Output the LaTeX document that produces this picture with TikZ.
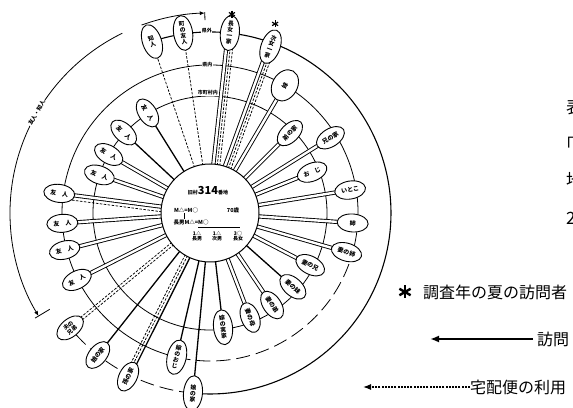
\documentclass[tikz,border=0pt]{standalone}
\usepackage{fontspec}
\setmainfont{Noto Sans CJK JP}
\usetikzlibrary{shapes.geometric,calc,arrows.meta}
\pgfdeclarelayer{bg}
\pgfsetlayers{bg,main}
\tikzset{
 leaf/.style={ellipse, draw, line width=0.9pt, fill=white, inner sep=0pt, minimum width=31pt, minimum height=18pt, font=\fontsize{6}{6.5}\selectfont\bfseries},
 vleaf/.style={leaf, minimum width=19pt, minimum height=35pt, align=center, font=\fontsize{5.8}{6.1}\selectfont\bfseries},
 single/.style={line width=1.3pt},
 dbl/.style={double, double distance=2.4pt, line width=0.9pt},
 dsh/.style={line width=0.75pt, dash pattern=on 2.5pt off 1.5pt},
 ring/.style={line width=0.8pt},
 ringlbl/.style={fill=white, inner sep=0.6pt, font=\fontsize{5}{5}\selectfont\bfseries},
 legend/.style={font=\fontsize{16}{16}\selectfont, inner sep=0pt, anchor=west},
 edge/.style={font=\fontsize{17}{17}\selectfont, inner sep=0pt, anchor=west},
}
\newcommand\lf[5]{\node[#5] (#1) at ($(C)+(#2:#3)$) {#4};}
\newcommand\spk[3]{\draw[#1] ($(ctr.center)!#3!90:(#2.center)$) -- ($(#2.center)!#3!-90:(ctr.center)$);}
\newcommand\astar[3]{\foreach \k in {0,60,120}{\draw[line width=#3] ($(#1)+(\k+90:#2)$) -- ($(#1)+(\k+270:#2)$);}}
\begin{document}
\begin{tikzpicture}[x=1pt,y=1pt]
\useasboundingbox (0,0) rectangle (573,407);
\coordinate (C) at (210,194);
\node[circle, draw, line width=1pt, fill=white, minimum size=98pt, inner sep=0pt] (ctr) at (C) {};
% ellipses
\lf{e1}{108.7}{181}{知\\人}{vleaf, rotate=18.7}
\lf{e2}{98.5}{182}{町\\の\\友\\人}{vleaf, rotate=8.5}
\lf{e3}{83.7}{181}{長\\女\\一\\家}{vleaf, rotate=-6.3}
\lf{e4}{70}{177}{次\\女\\一\\家}{vleaf, rotate=-20}
\lf{e5}{59.6}{148}{妹}{leaf, minimum width=33pt, minimum height=25pt, rotate=59.6}
\lf{e6}{45}{113}{弟の家}{leaf, rotate=45}
\lf{e7}{32}{142}{兄の家}{leaf, rotate=32}
\lf{e8}{21.8}{110}{お　じ}{leaf, rotate=21.8}
\lf{e9}{9.3}{142}{いとこ}{leaf, rotate=9.3}
\lf{e10}{-4}{143}{姉}{leaf, rotate=-4}
\lf{e11}{-16}{142}{妻の姉}{leaf, rotate=-16}
\lf{e12}{-27.5}{113}{妻の兄}{leaf, rotate=-27.5}
\lf{e13}{-41.7}{111}{妻の妹}{leaf, rotate=-41.7}
\lf{e14}{-56}{111}{妻の弟}{leaf, rotate=-56}
\lf{e15}{-69}{112}{妻の母}{leaf, rotate=-69}
\lf{e16}{-83.5}{115}{嫁\\の\\実\\家}{vleaf, rotate=6.5}
\lf{e17}{-95.4}{181}{娘\\の\\家}{vleaf, rotate=-5.4}
\lf{e18}{-103}{148}{嫁\\の\\お\\じ}{vleaf, rotate=-13}
\lf{e19}{243.4}{183}{孫の家}{leaf, rotate=63.4}
\lf{e20}{231.7}{181}{娘の家}{leaf, rotate=51.7}
\lf{e21}{219.4}{181}{夫の\\兄弟}{leaf, align=center, font=\fontsize{5.5}{5.7}\selectfont\bfseries, rotate=39.4}
\lf{e22}{206.7}{149}{友　人}{leaf, rotate=26.7}
\lf{e23}{194.3}{150}{友　人}{leaf, rotate=14.3}
\lf{e24}{184}{148}{友　人}{leaf, rotate=4}
\lf{e25}{172.6}{152}{友　人}{leaf, rotate=-7.4}
\lf{e26}{161}{117}{友　人}{leaf, rotate=-19}
\lf{e27}{150}{117}{友　人}{leaf, rotate=-30}
\lf{e28}{137}{118}{友　人}{leaf, rotate=-43}
\lf{e29}{122}{118}{友　人}{leaf, rotate=-58}
% ring labels
\node[ringlbl] (rl1) at ($(C)+(91:182)$) {県外};
\node[ringlbl] (rl2) at ($(C)+(91:148)$) {県内};
\node[ringlbl] (rl3) at ($(C)+(91:120)$) {市町村内};
\begin{pgfonlayer}{bg}
\draw[ring] (C) circle[radius=117pt];
\draw[ring] ($(C)+(-16:148)$) arc[start angle=-16, end angle=257, radius=148pt];
\draw[ring, dash pattern=on 14pt off 6pt] ($(C)+(257:148)$) arc[start angle=257, end angle=344, radius=148pt];
\draw[ring, line width=1.1pt] ($(C)+(108.7:181)$) arc[start angle=108.7, end angle=-95.4, radius=181pt];
\draw[ring, dash pattern=on 14pt off 6pt] ($(C)+(264.6:181)$) arc[start angle=264.6, end angle=219.4, radius=181pt];
% spokes
\spk{dsh}{e1}{0pt}
\spk{dsh}{e2}{0pt}
\spk{dbl}{e3}{2pt} \spk{dsh}{e3}{-2pt} \spk{dsh}{e3}{-4.5pt}
\spk{dbl}{e4}{2pt} \spk{dsh}{e4}{-2pt} \spk{dsh}{e4}{-4.5pt}
\foreach \n in {e5,e6,e7,e8,e9,e10,e11,e12,e14,e15,e22,e23,e24,e25,e26,e27}{\spk{dbl}{\n}{0pt}}
\foreach \n in {e13,e16,e17,e18,e20,e28,e29}{\spk{single}{\n}{0pt}}
\spk{single}{e19}{2pt} \spk{dsh}{e19}{-1pt} \spk{dsh}{e19}{-3.5pt}
\spk{dsh}{e21}{1.5pt} \spk{dsh}{e21}{-1.5pt}
\spk{dsh}{e25}{5pt}
\end{pgfonlayer}
% brackets
\draw[line width=0.8pt, -{Latex[length=5pt,width=4pt]}] ($(C)+(116:200)$) arc[start angle=116, end angle=211, radius=200pt];
\draw[line width=0.8pt] ($(C)+(211:204)$) -- ($(C)+(211:187)$);
\node[fill=white, inner sep=0.8pt, rotate=60, font=\fontsize{5.5}{5.5}\selectfont\bfseries] (fr) at ($(C)+(150:200)$) {友人・知人};
\draw[line width=0.8pt, -{Latex[length=5pt,width=4pt]}] ($(C)+(110:200)$) arc[start angle=110, end angle=91.5, radius=200pt];
\draw[line width=0.8pt] ($(C)+(91.5:201)$) -- ($(C)+(91.5:193)$);
% stars
\coordinate (s1) at ($(C)+(83.7:200)$);
\coordinate (s2) at ($(C)+(71:200)$);
\astar{s1}{3.5}{1.2pt}
\astar{s2}{3.5}{1.2pt}
% centre text
\node[inner sep=0pt, font=\fontsize{5}{5}\selectfont\bfseries] (c1) at (208,216) {旧村{\fontsize{11}{11}\selectfont 314}番地};
\node[inner sep=0pt, font=\fontsize{5.5}{5.5}\selectfont\bfseries] (c2) at (186,197) {M△=M○};
\node[inner sep=0pt, font=\fontsize{5.5}{5.5}\selectfont\bfseries] (c3) at (233,197) {70歳};
\node[inner sep=0pt, font=\fontsize{5.5}{5.5}\selectfont\bfseries] (c4) at (191,185) {長男M△=M○};
\draw[line width=0.6pt] (184,193.5) -- (184,188);
\draw[line width=0.5pt] (198,180) -- (240,180);
\node[inner sep=0pt, align=center, font=\fontsize{5}{5.3}\selectfont\bfseries] (k1) at (197,171) {1△\\長男};
\node[inner sep=0pt, align=center, font=\fontsize{5}{5.3}\selectfont\bfseries] (k2) at (217,171) {1△\\次男};
\node[inner sep=0pt, align=center, font=\fontsize{5}{5.3}\selectfont\bfseries] (k3) at (238,171) {3○\\長女};
% legend
\coordinate (ls) at (405,115);
\astar{ls}{6.5}{2.4pt}
\node[legend] (l1) at (423,115) {調査年の夏の訪問者};
\node[legend] (l2) at (537,68) {訪問};
\coordinate (l2a) at (430,68);
\draw[line width=2.2pt, -{Latex[length=9pt,width=7pt]}] (l2.west) ++(-4,0) -- (l2a);
\node[legend] (l3) at (470,20) {宅配便の利用};
\coordinate (l3a) at (363,20);
\draw[line width=1.2pt, dash pattern=on 2pt off 1.2pt, -{Latex[length=8pt,width=6pt]}] (l3.west) -- (l3a);
% cut-off caption at right edge
\node[edge] (t1) at (566,300) {表};
\node[edge] (t2) at (557,263) {「};
\node[edge] (t3) at (566,227) {地};
\node[edge] (t4) at (566,189) {2};
\end{tikzpicture}
\end{document}
